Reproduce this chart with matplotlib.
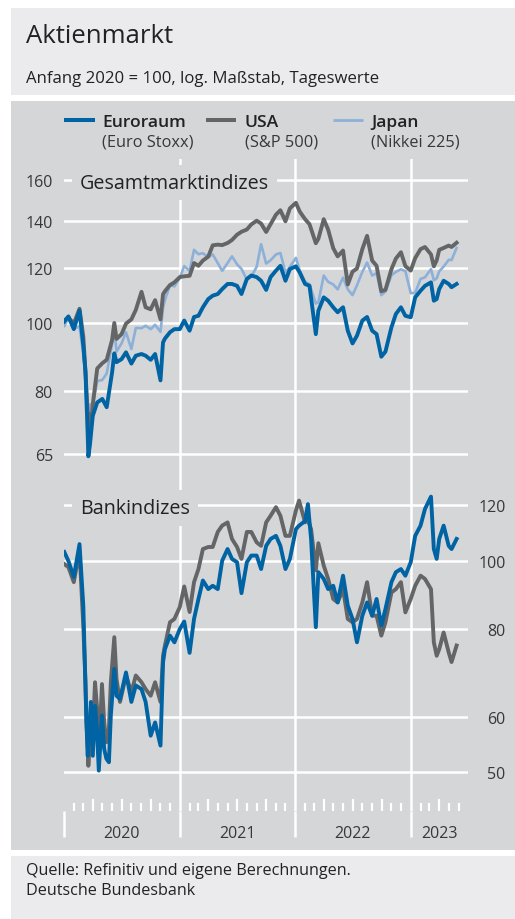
import matplotlib
matplotlib.use('Agg')
import matplotlib.pyplot as plt
import matplotlib.dates as mdates
from matplotlib.patches import Rectangle
from matplotlib.lines import Line2D
from matplotlib.ticker import NullLocator
import pandas as pd

plt.rcParams['font.family'] = ['Open Sans', 'DejaVu Sans']

# ---- data: Anfang 2020 = 100 ----
dates = ['2020-01-02', '2020-01-15', '2020-02-01', '2020-02-19', '2020-03-02', '2020-03-09',
         '2020-03-16', '2020-03-18', '2020-03-23', '2020-04-01', '2020-04-15', '2020-05-01',
         '2020-05-15', '2020-06-01', '2020-06-08', '2020-06-15', '2020-07-01', '2020-07-15',
         '2020-08-01', '2020-08-15', '2020-09-02', '2020-09-15', '2020-10-01', '2020-10-15',
         '2020-11-01', '2020-11-09', '2020-11-15', '2020-12-01', '2020-12-15',
         '2021-01-01', '2021-01-15', '2021-02-01', '2021-02-15', '2021-03-01', '2021-03-15',
         '2021-04-01', '2021-04-15', '2021-05-01', '2021-05-15', '2021-06-01', '2021-06-15',
         '2021-07-01', '2021-07-15', '2021-08-01', '2021-08-15', '2021-09-01', '2021-09-15',
         '2021-10-01', '2021-10-15', '2021-11-01', '2021-11-15', '2021-12-01', '2021-12-15',
         '2022-01-03', '2022-01-15', '2022-02-01', '2022-02-15', '2022-03-07', '2022-03-15',
         '2022-04-01', '2022-04-15', '2022-05-01', '2022-05-15', '2022-06-01', '2022-06-16',
         '2022-07-01', '2022-07-15', '2022-08-01', '2022-08-16', '2022-09-01', '2022-09-15',
         '2022-09-30', '2022-10-13', '2022-11-01', '2022-11-15', '2022-12-01', '2022-12-15',
         '2023-01-01', '2023-01-15', '2023-02-01', '2023-02-15', '2023-03-06', '2023-03-15',
         '2023-03-24', '2023-04-01', '2023-04-15', '2023-05-01', '2023-05-10', '2023-05-26']

euro_stoxx = [100.5, 102.2, 98.0, 104.2, 92.8, 85.0, 69.0, 64.5, 67.0, 73.7, 77.0, 77.9,
              75.8, 85.0, 90.5, 87.9, 88.8, 90.8, 87.5, 89.8, 90.3, 89.8, 88.6, 90.3,
              82.8, 93.8, 95.0, 97.0, 98.0,
              98.0, 100.8, 97.5, 102.0, 102.4, 105.3, 108.2, 109.4, 110.0, 111.8, 113.7, 113.7,
              113.0, 110.0, 115.6, 116.9, 116.3, 114.9, 111.5, 116.3, 118.8, 120.7, 114.9, 119.4,
              120.5, 118.1, 113.7, 113.0, 96.4, 104.1, 108.8, 107.6, 105.3, 103.6, 105.3, 97.5,
              93.5, 95.9, 100.8, 102.0, 97.5, 96.4, 89.5, 91.0, 98.6, 103.0, 105.3, 102.4,
              101.9, 108.8, 111.2, 113.0, 114.3, 107.6, 108.2, 111.8, 114.9, 113.7, 112.5, 113.7]

sp500 = [100.8, 101.8, 99.8, 104.8, 95.6, 85.0, 73.9, 74.2, 69.2, 76.5, 86.1, 87.6,
         88.6, 94.6, 100.0, 94.9, 96.4, 99.8, 101.2, 104.4, 110.8, 105.3, 104.6, 107.8,
         101.2, 109.9, 111.0, 113.3, 114.3,
         116.3, 116.6, 116.8, 121.8, 120.7, 122.8, 124.4, 129.1, 129.4, 129.2, 130.1, 131.4,
         133.7, 135.0, 136.0, 138.3, 140.0, 138.7, 134.9, 138.4, 142.8, 144.9, 139.7, 145.8,
         148.5, 144.3, 140.7, 138.4, 130.0, 131.9, 140.7, 135.9, 127.9, 124.5, 126.9, 113.5,
         118.4, 119.6, 127.5, 133.2, 122.8, 120.7, 111.0, 111.5, 119.4, 123.6, 126.2, 120.6,
         118.8, 123.8, 127.5, 128.4, 125.3, 120.5, 122.9, 127.2, 128.0, 129.0, 128.4, 130.2]

nikkei = [99.0, 101.6, 98.1, 98.9, 90.2, 83.3, 71.9, 70.7, 76.5, 76.4, 82.6, 82.9,
          84.7, 93.3, 98.0, 91.0, 93.5, 97.0, 91.8, 98.4, 98.3, 99.1, 98.0, 99.4,
          97.1, 105.0, 107.9, 113.2, 112.8,
          116.0, 120.6, 118.7, 127.2, 125.4, 125.8, 124.2, 125.3, 121.8, 118.7, 121.8, 124.5,
          121.3, 119.5, 115.3, 116.5, 120.3, 129.6, 121.6, 122.9, 125.3, 125.9, 118.1, 120.3,
          123.9, 118.9, 114.5, 113.6, 106.6, 107.1, 116.9, 114.5, 113.5, 111.7, 116.1, 111.7,
          109.6, 113.2, 118.3, 122.0, 116.9, 117.8, 109.6, 110.9, 117.0, 118.3, 119.3, 118.6,
          110.3, 110.4, 115.6, 116.2, 119.4, 115.1, 115.8, 118.5, 120.4, 123.1, 123.0, 128.0]

bank_dates = ['2020-01-02', '2020-01-15', '2020-02-01', '2020-02-19', '2020-03-02', '2020-03-09',
              '2020-03-12', '2020-03-16', '2020-03-18', '2020-03-23', '2020-03-26', '2020-04-01',
              '2020-04-08', '2020-04-14', '2020-04-20', '2020-04-30', '2020-05-07', '2020-05-14',
              '2020-05-22', '2020-05-28', '2020-06-08', '2020-06-15', '2020-06-26', '2020-07-15',
              '2020-08-01', '2020-08-15', '2020-09-02', '2020-09-15', '2020-10-01', '2020-10-15',
              '2020-11-01', '2020-11-09', '2020-11-15', '2020-12-01', '2020-12-15',
              '2021-01-01', '2021-01-15', '2021-02-01', '2021-02-15', '2021-03-01', '2021-03-15',
              '2021-04-01', '2021-04-15', '2021-05-01', '2021-05-15', '2021-06-01', '2021-06-15',
              '2021-07-01', '2021-07-15', '2021-08-01', '2021-08-15', '2021-09-01', '2021-09-15',
              '2021-10-01', '2021-10-15', '2021-11-01', '2021-11-15', '2021-12-01', '2021-12-15',
              '2022-01-03', '2022-01-13', '2022-02-01', '2022-02-10', '2022-02-20', '2022-03-07',
              '2022-03-15', '2022-04-01', '2022-04-15', '2022-05-01', '2022-05-15', '2022-06-01',
              '2022-06-16', '2022-07-01', '2022-07-15', '2022-08-01', '2022-08-16', '2022-09-01',
              '2022-09-15', '2022-09-30', '2022-10-13', '2022-11-01', '2022-11-15', '2022-12-01',
              '2022-12-15', '2023-01-01', '2023-01-15', '2023-02-01', '2023-02-15', '2023-03-06',
              '2023-03-15', '2023-03-24', '2023-04-01', '2023-04-15', '2023-05-01', '2023-05-10',
              '2023-05-26']

banks_euro = [103.0, 100.0, 94.9, 105.7, 86.4, 65.7, 58.9, 52.8, 55.2, 58.9, 63.0, 52.8,
              62.2, 57.7, 50.3, 60.3, 54.0, 52.3, 51.7, 60.3, 70.2, 64.3, 63.6, 69.4,
              63.0, 66.5, 65.7, 63.0, 56.4, 58.9, 54.6, 71.7, 74.9, 78.3, 76.6,
              80.0, 82.0, 74.0, 82.7, 88.3, 93.8, 91.2, 92.2, 91.2, 100.1, 104.0, 100.7,
              99.6, 90.0, 99.6, 101.8, 101.8, 97.4, 105.1, 107.5, 108.6, 105.1, 97.4, 100.7,
              111.0, 112.3, 114.0, 120.5, 107.5, 80.5, 96.4, 94.3, 91.2, 92.2, 87.3, 95.3,
              86.4, 82.7, 76.6, 83.6, 87.3, 83.6, 88.3, 80.9, 85.4, 93.3, 96.4, 97.4,
              95.3, 99.6, 108.6, 112.3, 118.6, 123.5, 104.0, 100.7, 107.5, 112.3, 105.1, 104.0,
              107.5]

banks_usa = [99.0, 98.0, 93.3, 103.4, 80.9, 67.2, 58.9, 54.0, 51.1, 55.2, 62.2, 56.4,
             67.2, 62.2, 52.8, 66.8, 58.9, 55.2, 57.7, 67.2, 77.9, 67.9, 63.0, 68.7,
             65.0, 68.7, 67.2, 65.7, 64.3, 67.2, 63.0, 73.3, 75.8, 81.8, 82.7,
             86.0, 92.0, 84.6, 93.3, 97.4, 104.0, 104.7, 104.7, 110.0, 112.3, 113.5, 107.5,
             104.7, 100.7, 110.0, 110.0, 106.3, 105.1, 113.5, 116.0, 119.3, 116.0, 108.6, 108.6,
             118.0, 121.9, 113.5, 114.5, 111.0, 97.0, 106.0, 98.5, 94.3, 88.3, 87.3, 91.2,
             82.7, 81.8, 82.7, 87.3, 93.3, 83.6, 83.6, 78.3, 81.8, 90.2, 91.2, 93.3,
             84.5, 88.3, 92.2, 95.3, 94.3, 91.2, 76.6, 73.3, 74.9, 79.1, 74.1, 71.8,
             75.8]

years = ['2020', '2021', '2022', '2023']
total_ticks = [65, 80, 100, 120, 140, 160]
bank_ticks = [50, 60, 80, 100, 120]

# ---- styling ----
W, H = 515, 920
c_euro = '#0063a3'
c_usa = '#646567'
c_japan = '#8db0d9'
c_panel = '#d5d6d8'
c_light = '#ebebed'
c_text = '#222222'
c_tick = '#383838'

def fx(x):
    return x / W

def fy(y):
    return 1 - y / H

fig = plt.figure(figsize=(W / 100, H / 100), dpi=100)
fig.patch.set_facecolor('white')

for y0, y1, col in [(9, 96, c_light), (101.7, 850.7, c_panel), (857, 920, c_light)]:
    fig.add_artist(Rectangle((fx(11), fy(y1)), 1 - fx(11), (y1 - y0) / H,
                             transform=fig.transFigure, facecolor=col, edgecolor='none', zorder=-5))

fig.text(fx(26), fy(43.3), 'Aktienmarkt', fontsize=18.5, fontweight='medium', color=c_text,
         va='baseline')
fig.text(fx(26), fy(83.5), 'Anfang 2020 = 100, log. Maßstab, Tageswerte', fontsize=12.1,
         color=c_text, va='baseline')
fig.text(fx(26), fy(875.5), 'Quelle: Refinitiv und eigene Berechnungen.', fontsize=11.6,
         color=c_text, va='baseline')
fig.text(fx(26), fy(895), 'Deutsche Bundesbank', fontsize=11.6, color=c_text, va='baseline')

# legend
legend_items = [('Euroraum', '(Euro Stoxx)', c_euro, 2.9, 64, 95, 102),
                ('USA', '(S&P 500)', c_usa, 2.9, 206, 236, 245),
                ('Japan', '(Nikkei 225)', c_japan, 2.0, 333, 363, 371)]
for name, sub, col, lw, x0, x1, xt in legend_items:
    fig.add_artist(Line2D([fx(x0), fx(x1)], [fy(121), fy(121)], transform=fig.transFigure,
                          color=col, lw=lw, solid_capstyle='butt'))
    fig.text(fx(xt), fy(127.3), name, fontsize=12.6, fontweight='semibold', color=c_text,
             va='baseline')
    fig.text(fx(xt), fy(146.5), sub, fontsize=11.8, color=c_tick, va='baseline')

x_start = pd.Timestamp('2020-01-01')
x_end = pd.Timestamp('2023-07-01')
year_starts = [pd.Timestamp(y + '-01-01') for y in years]

ax1 = fig.add_axes([fx(64), fy(480), fx(468) - fx(64), 320 / H])
ax2 = fig.add_axes([fx(64), fy(812), fx(468) - fx(64), 332 / H])

t_total = pd.to_datetime(dates)
t_banks = pd.to_datetime(bank_dates)

ax1.plot(t_total, nikkei, color=c_japan, lw=1.9, zorder=3)
ax1.plot(t_total, sp500, color=c_usa, lw=2.8, zorder=4)
ax1.plot(t_total, euro_stoxx, color=c_euro, lw=2.8, zorder=5)
ax2.plot(t_banks, banks_usa, color=c_usa, lw=2.8, zorder=4)
ax2.plot(t_banks, banks_euro, color=c_euro, lw=2.8, zorder=5)

ax1.set_yscale('log')
ax2.set_yscale('log')
ax1.set_ylim(59.86, 171.5)
ax2.set_ylim(44.06, 130.85)

for ax, ticks in [(ax1, total_ticks), (ax2, bank_ticks)]:
    ax.set_facecolor('none')
    for s in ax.spines.values():
        s.set_visible(False)
    ax.set_xlim(x_start, x_end)
    ax.set_yticks(ticks, [str(t) for t in ticks])
    ax.yaxis.set_minor_locator(NullLocator())
    ax.set_xticks(year_starts)
    ax.grid(True, color='white', lw=1.8)
    ax.tick_params(axis='y', length=0, labelsize=11.5, labelcolor=c_tick)
    ax.set_axisbelow(True)
    ax.xaxis.get_major_ticks()[0].gridline.set_visible(False)

ax1.tick_params(axis='y', pad=8)
ax1.tick_params(axis='x', length=0, labelbottom=False)

ax2.yaxis.tick_right()
ax2.tick_params(axis='y', pad=27)
for lab in ax2.get_yticklabels():
    lab.set_horizontalalignment('right')

# time axis: year lines, quarter and month ticks
months = pd.date_range('2020-01-01', '2023-06-01', freq='MS')
ax2.set_xticks([m for m in months if m.month not in (1, 4, 7, 10)], minor=True)
ax2.tick_params(axis='x', which='major', direction='out', length=18.5, width=1.8,
                color='white', labelbottom=False)
ax2.tick_params(axis='x', which='minor', direction='in', length=6, width=1.6, color='white')

axq = fig.add_axes(ax2.get_position().bounds)
axq.set_facecolor('none')
for s in axq.spines.values():
    s.set_visible(False)
axq.set_xlim(mdates.date2num(x_start), mdates.date2num(x_end))
axq.set_xticks(mdates.date2num([m for m in months if m.month in (4, 7, 10)]))
axq.set_yticks([])
axq.tick_params(axis='x', direction='in', length=9, width=1.6, color='white', labelbottom=False)

label_pos = [pd.Timestamp('2020-07-01'), pd.Timestamp('2021-07-01'),
             pd.Timestamp('2022-07-01'), pd.Timestamp('2023-04-01')]
for pos, y in zip(label_pos, years):
    ax2.text(pos, -26 / 332, y, transform=ax2.get_xaxis_transform(), ha='center',
             va='baseline', fontsize=11.5, color=c_tick)

# panel labels
box = dict(boxstyle='square,pad=0.4', facecolor=c_panel, edgecolor='none')
ax1.text(16 / 404, 160, 'Gesamtmarktindizes', transform=ax1.get_yaxis_transform(),
         fontsize=14.2, color=c_text, va='center_baseline', bbox=box, zorder=6)
ax2.text(16 / 404, 120, 'Bankindizes', transform=ax2.get_yaxis_transform(),
         fontsize=14.2, color=c_text, va='center_baseline', bbox=box, zorder=6)

fig.savefig('out.png', dpi=100)
